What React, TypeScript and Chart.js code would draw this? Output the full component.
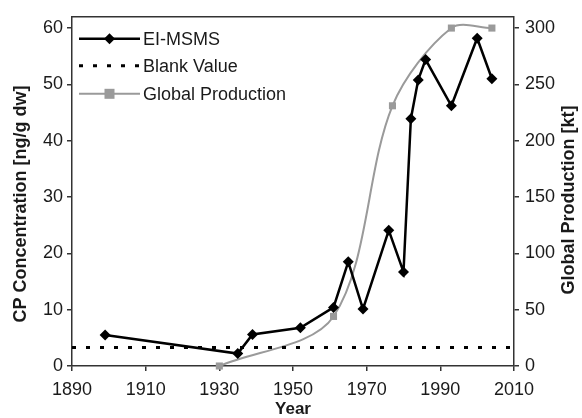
import React, { useEffect, useRef } from 'react';
import { Chart, registerables } from 'chart.js';

Chart.register(...registerables);

// EI-MSMS measurements of chlorinated paraffin concentration (left axis)
const sampleYears = [1899, 1935, 1939, 1952, 1961, 1965, 1969, 1976, 1980, 1982, 1984, 1986, 1993, 2000, 2004];
const cpConcentration = [5.5, 2.2, 5.6, 6.8, 10.4, 18.5, 10.1, 24.1, 16.7, 43.9, 50.8, 54.4, 46.2, 58.2, 51.0];

// Global production (right axis, kt)
const productionYears = [1930, 1961, 1977, 1993, 2004];
const globalProduction = [0, 44, 231, 300, 300];

// Procedural blank level
const blankValue = 3.3;
const blankSpan = [1890, 2010];

// Axis tick values
const yearTicks = [1890, 1910, 1930, 1950, 1970, 1990, 2010];
const concentrationTicks = [0, 10, 20, 30, 40, 50, 60];
const productionTicks = [0, 50, 100, 150, 200, 250, 300];

const FONT = '"Liberation Sans", Arial, Helvetica, sans-serif';
const AXIS_COLOR = '#333';
const TEXT_COLOR = '#1a1a1a';
const GRAY = '#9a9a9a';

const legendItems = ['EI-MSMS', 'Blank Value', 'Global Production'];
const axisTitles = { left: 'CP Concentration [ng/g dw]', right: 'Global Production [kt]', bottom: 'Year' };

function diamond(ctx: CanvasRenderingContext2D, x: number, y: number, r: number) {
  ctx.beginPath();
  ctx.moveTo(x, y - r);
  ctx.lineTo(x + r, y);
  ctx.lineTo(x, y + r);
  ctx.lineTo(x - r, y);
  ctx.closePath();
  ctx.fill();
}

const decorations = {
  id: 'decorations',
  afterDraw(chart: any) {
    const ctx: CanvasRenderingContext2D = chart.ctx;
    const { left, right, top } = chart.chartArea;
    ctx.save();

    // frame top edge
    ctx.strokeStyle = AXIS_COLOR;
    ctx.lineWidth = 1.5;
    ctx.beginPath();
    ctx.moveTo(left, top);
    ctx.lineTo(right, top);
    ctx.stroke();

    // axis titles
    ctx.fillStyle = TEXT_COLOR;
    ctx.textAlign = 'center';
    ctx.textBaseline = 'middle';
    ctx.font = `bold 18px ${FONT}`;
    ctx.save();
    ctx.translate(21, 204);
    ctx.rotate(-Math.PI / 2);
    ctx.fillText(axisTitles.left, 0, 0);
    ctx.restore();
    ctx.save();
    ctx.translate(569, 200);
    ctx.rotate(-Math.PI / 2);
    ctx.fillText(axisTitles.right, 0, 0);
    ctx.restore();
    ctx.font = `bold 17px ${FONT}`;
    ctx.fillText(axisTitles.bottom, (left + right) / 2, 409);

    // legend
    const x0 = left + 7;
    const x1 = left + 68;
    const xm = (x0 + x1) / 2;
    const rows = [top + 22, top + 49, top + 77];
    ctx.lineCap = 'butt';

    ctx.strokeStyle = '#000';
    ctx.fillStyle = '#000';
    ctx.lineWidth = 2.5;
    ctx.beginPath();
    ctx.moveTo(x0, rows[0]);
    ctx.lineTo(x1, rows[0]);
    ctx.stroke();
    diamond(ctx, xm, rows[0], 5.5);

    ctx.lineWidth = 3;
    ctx.setLineDash([4, 10]);
    ctx.beginPath();
    ctx.moveTo(x0, rows[1]);
    ctx.lineTo(x1, rows[1]);
    ctx.stroke();
    ctx.setLineDash([]);

    ctx.strokeStyle = GRAY;
    ctx.fillStyle = GRAY;
    ctx.lineWidth = 2;
    ctx.beginPath();
    ctx.moveTo(x0, rows[2]);
    ctx.lineTo(x1, rows[2]);
    ctx.stroke();
    ctx.fillRect(xm - 5, rows[2] - 5, 10, 10);

    ctx.fillStyle = TEXT_COLOR;
    ctx.font = `18px ${FONT}`;
    ctx.textAlign = 'left';
    legendItems.forEach((label, i) => ctx.fillText(label, x1 + 3, rows[i] + 1));

    ctx.restore();
  },
};

const tickFont = { family: FONT, size: 18 };
const tickGrid = {
  display: true,
  drawOnChartArea: false,
  drawTicks: true,
  tickLength: 5,
  color: AXIS_COLOR,
  lineWidth: 1.5,
};
const axisBorder = { display: true, color: AXIS_COLOR, width: 1.5 };
const useTicks = (values: number[]) => (s: any) => {
  s.ticks = values.map((value) => ({ value }));
};

export default function App() {
  const canvasRef = useRef<HTMLCanvasElement | null>(null);

  useEffect(() => {
    const canvas = canvasRef.current;
    if (!canvas) return;

    const chart = new Chart(canvas, {
      type: 'line',
      data: {
        datasets: [
          {
            label: legendItems[0],
            data: sampleYears.map((x, i) => ({ x, y: cpConcentration[i] })),
            yAxisID: 'y',
            borderColor: '#000',
            backgroundColor: '#000',
            borderWidth: 2.5,
            pointStyle: 'rectRot',
            pointRadius: 5.5,
            pointBorderWidth: 0,
            tension: 0,
            clip: false,
          },
          {
            label: legendItems[1],
            data: blankSpan.map((x) => ({ x, y: blankValue })),
            yAxisID: 'y',
            borderColor: '#000',
            borderWidth: 3,
            borderDash: [4, 10],
            pointRadius: 0,
            tension: 0,
          },
          {
            label: legendItems[2],
            data: productionYears.map((x, i) => ({ x, y: globalProduction[i] })),
            yAxisID: 'y1',
            borderColor: GRAY,
            backgroundColor: GRAY,
            borderWidth: 2,
            pointStyle: 'rect',
            pointRadius: 5,
            pointBorderWidth: 0,
            tension: 0.32,
            clip: false,
          },
        ],
      },
      options: {
        responsive: false,
        animation: false,
        devicePixelRatio: 1,
        layout: { padding: { top: 13, left: 0, right: 0, bottom: 0 } },
        plugins: { legend: { display: false }, tooltip: { enabled: false } },
        scales: {
          x: {
            type: 'linear',
            min: 1890,
            max: 2010,
            afterBuildTicks: useTicks(yearTicks),
            ticks: {
              font: tickFont,
              color: TEXT_COLOR,
              padding: 8,
              maxRotation: 0,
              callback: (v: any) => String(v),
            },
            grid: tickGrid,
            border: axisBorder,
            afterFit: (s: any) => {
              s.height = 52;
            },
          },
          y: {
            position: 'left',
            min: 0,
            max: 62,
            afterBuildTicks: useTicks(concentrationTicks),
            ticks: { font: tickFont, color: TEXT_COLOR, padding: 4 },
            grid: tickGrid,
            border: axisBorder,
            afterFit: (s: any) => {
              s.width = 72;
            },
          },
          y1: {
            position: 'right',
            min: 0,
            max: 310,
            afterBuildTicks: useTicks(productionTicks),
            ticks: { font: tickFont, color: TEXT_COLOR, padding: 6 },
            grid: tickGrid,
            border: axisBorder,
            afterFit: (s: any) => {
              s.width = 68;
            },
          },
        },
      },
      plugins: [decorations],
    });

    return () => chart.destroy();
  }, []);

  return (
    <div style={{ position: 'absolute', left: 0, top: 0, width: 582, height: 418, background: '#fff' }}>
      <canvas ref={canvasRef} width={582} height={418} />
    </div>
  );
}
